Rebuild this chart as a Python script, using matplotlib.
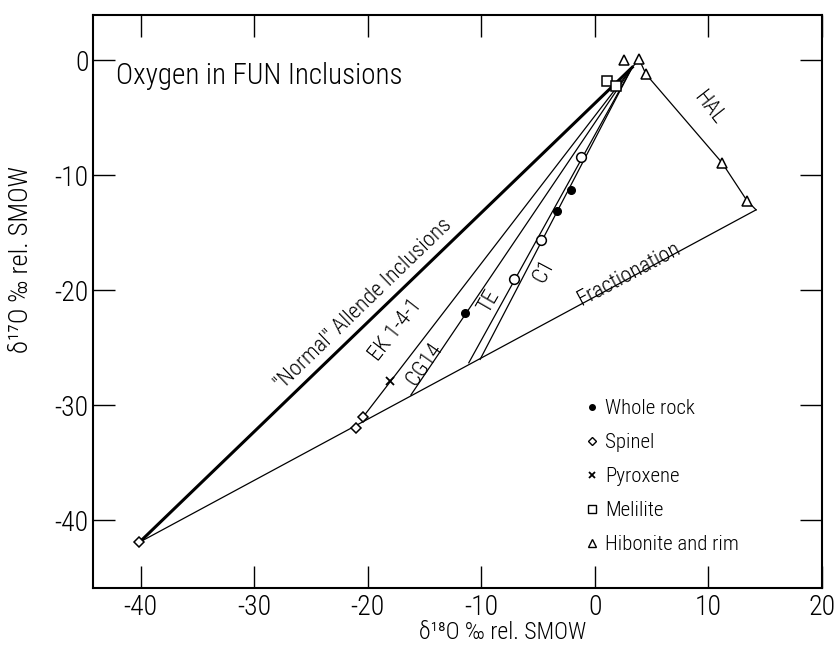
import matplotlib
matplotlib.use("Agg")
import matplotlib.pyplot as plt
from matplotlib.lines import Line2D
from matplotlib import font_manager

# pick a condensed sans face if one is installed
_fonts = font_manager.fontManager.ttflist
_names = {f.name for f in _fonts}
if 'Roboto Condensed' in _names:
    _fam = 'Roboto Condensed'
elif 'Liberation Sans Narrow' in _names:
    _fam = 'Liberation Sans Narrow'
elif 'Roboto' in _names:
    _fam = 'Roboto'
else:
    _fam = 'DejaVu Sans'
plt.rcParams['font.family'] = [_fam, 'DejaVu Sans']
plt.rcParams['font.weight'] = 'light'
plt.rcParams['axes.labelweight'] = 'light'

# ---- data ----
whole_rock_x = [-11.4, -3.3, -2.1]
whole_rock_y = [-22.0, -13.1, -11.3]
open_circle_x = [-7.1, -4.7, -1.2]
open_circle_y = [-19.0, -15.6, -8.4]
spinel_x = [-40.1, -21.0, -20.4]
spinel_y = [-41.9, -32.0, -31.0]
pyroxene_x = [-18.0]
pyroxene_y = [-27.9]
melilite_x = [1.1, 1.9]
melilite_y = [-1.8, -2.2]
hibonite_x = [2.6, 3.9, 4.5, 11.2, 13.4]
hibonite_y = [0.0, 0.1, -1.2, -8.9, -12.2]

normal_line_x = [-40.1, 3.3]
normal_line_y = [-41.9, -0.6]
ek_line_x = [-20.4, 3.3]
ek_line_y = [-31.0, -0.6]
cg14_line_x = [-16.2, 3.3]
cg14_line_y = [-29.1, -0.6]
te_line_x = [-11.1, 3.3]
te_line_y = [-26.3, -0.6]
c1_line_x = [-10.1, 3.3]
c1_line_y = [-26.0, -0.6]
frac_line_x = [-40.1, 14.2]
frac_line_y = [-41.9, -13.0]
hal_line_x = [3.3, 3.9, 4.5, 11.2, 13.4, 14.2]
hal_line_y = [-0.6, 0.1, -1.2, -8.9, -12.2, -13.0]

x_ticks = [-40, -30, -20, -10, 0, 10, 20]
y_ticks = [0, -10, -20, -30, -40]
legend_labels = ['Whole rock', 'Spinel', 'Pyroxene', 'Melilite', 'Hibonite and rim']

fig = plt.figure(figsize=(8.37, 6.45), dpi=100)
ax = fig.add_axes([0.111, 0.088, 0.871, 0.888])
ax.set_xlim(-44.2, 20)
ax.set_ylim(-45.9, 3.9)

k = 'black'
ax.plot(normal_line_x, normal_line_y, color=k, lw=2.2, zorder=2)
for lx, ly in [(ek_line_x, ek_line_y), (cg14_line_x, cg14_line_y),
               (te_line_x, te_line_y), (c1_line_x, c1_line_y),
               (frac_line_x, frac_line_y), (hal_line_x, hal_line_y)]:
    ax.plot(lx, ly, color=k, lw=0.9, zorder=2)

ax.plot(whole_rock_x, whole_rock_y, 'o', color=k, ms=5.5, zorder=3)
ax.plot(open_circle_x, open_circle_y, 'o', mfc='white', mec=k, ms=7, mew=1.1, zorder=3)
ax.plot(spinel_x, spinel_y, 'D', mfc='white', mec=k, ms=5.5, mew=1.1, zorder=3)
ax.plot(pyroxene_x, pyroxene_y, 'x', color=k, ms=6, mew=1.3, zorder=3)
ax.plot(melilite_x, melilite_y, 's', mfc='white', mec=k, ms=7, mew=1.1, zorder=3)
ax.plot(hibonite_x, hibonite_y, '^', mfc='white', mec=k, ms=7.5, mew=1.1, zorder=3)

# line labels
lab = dict(fontsize=16, color=k, ha='center', va='center', rotation_mode='anchor')
ax.text(-20.4, -21.2, '"Normal" Allende Inclusions', rotation=44, **lab)
ax.text(-17.5, -23.5, 'EK 1-4-1', rotation=52, **lab)
ax.text(-15.0, -26.4, 'CG14', rotation=55, **lab)
ax.text(-9.3, -21.0, 'TE', rotation=60, **lab)
ax.text(-4.5, -18.3, 'C1', rotation=62, **lab)
ax.text(3.0, -18.6, 'Fractionation', rotation=28, **lab)
ax.text(10.0, -4.1, 'HAL', rotation=-52, **lab)

ax.text(-42.2, -1.4, 'Oxygen in FUN Inclusions', fontsize=21, ha='left', va='center')

handles = [
    Line2D([], [], ls='none', marker='o', color=k, ms=4),
    Line2D([], [], ls='none', marker='D', mfc='white', mec=k, ms=4.5),
    Line2D([], [], ls='none', marker='x', color=k, ms=5, mew=1.3),
    Line2D([], [], ls='none', marker='s', mfc='white', mec=k, ms=6),
    Line2D([], [], ls='none', marker='^', mfc='white', mec=k, ms=6),
]
ax.legend(handles, legend_labels, loc='upper left', bbox_to_anchor=(0.665, 0.345),
          frameon=False, fontsize=15, handlelength=0.6, handletextpad=0.3,
          labelspacing=0.72, borderaxespad=0)

ax.set_xticks(x_ticks)
ax.set_yticks(y_ticks)
ax.set_xticklabels([str(v) for v in x_ticks])
ax.set_yticklabels([str(v) for v in y_ticks])
ax.tick_params(direction='in', length=16, width=1, labelsize=20, top=True, right=True)
ax.tick_params(axis='x', pad=4)
ax.tick_params(axis='y', pad=3)
for s in ax.spines.values():
    s.set_linewidth(1.5)

ax.set_xlabel('δ¹⁸O ‰ rel. SMOW', fontsize=17)
ax.set_ylabel('δ¹⁷O ‰ rel. SMOW', fontsize=19)
ax.xaxis.set_label_coords(0.562, -0.058)
ax.yaxis.set_label_coords(-0.082, 0.574)

fig.savefig('out.png', dpi=100)
